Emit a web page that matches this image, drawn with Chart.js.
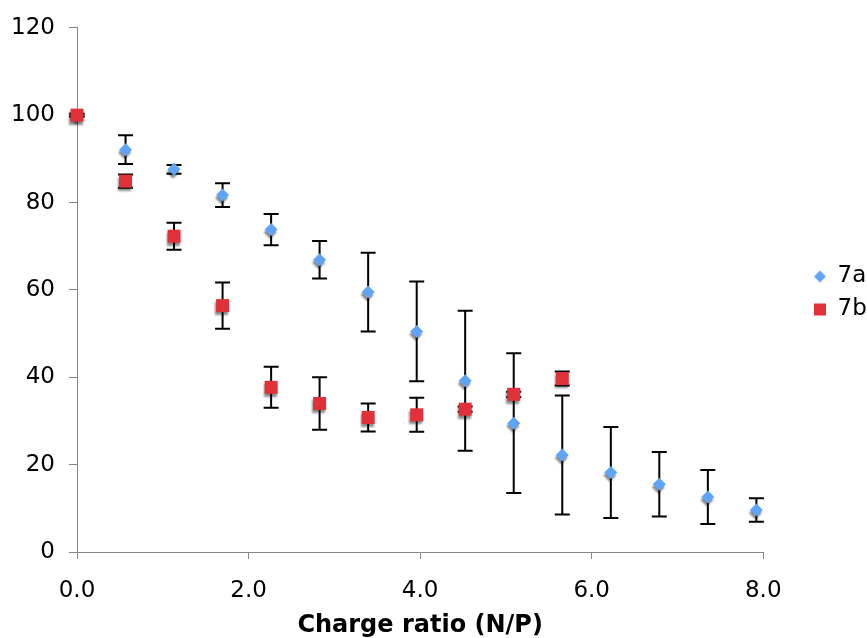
<!DOCTYPE html>
<html>
<head>
<meta charset="utf-8">
<script src="https://cdn.jsdelivr.net/npm/chart.js@4"></script>
<style>
  html, body { margin: 0; padding: 0; background: #fff; }
</style>
</head>
<body>
<canvas id="chart" width="867" height="638"></canvas>
<script>
// charge ratio (N/P) of each measurement
const chargeRatio = [0, 0.566, 1.131, 1.697, 2.263, 2.828, 3.394, 3.960, 4.525, 5.091, 5.657, 6.223, 6.788, 7.354, 7.920];

const values7a = [100, 92.1, 87.6, 81.7, 73.8, 66.9, 59.5, 50.5, 39.2, 29.5, 22.2, 18.2, 15.5, 12.6, 9.6];
const errors7a = [0.3, 3.3, 1.0, 2.7, 3.6, 4.3, 9.0, 11.4, 16.0, 16.0, 13.6, 10.4, 7.4, 6.2, 2.7];

const values7b = [100, 84.9, 72.3, 56.4, 37.7, 34.0, 30.8, 31.4, 32.7, 36.1, 39.7];
const errors7b = [0.3, 1.5, 3.1, 5.3, 4.7, 6.0, 3.2, 3.9, 0.6, 0.6, 1.6];

const seriesNames = ['7a', '7b'];

const FONT = 'DejaVu Sans, Verdana, sans-serif';
const BLUE = '#5ea5f7';
const RED = '#e0303a';
const AXIS = '#868686';

function points(ys) {
    return ys.map((y, i) => ({ x: chargeRatio[i], y: y }));
}

// small marker pictures for the legend
function legendIcon(shape, color) {
    const c = document.createElement('canvas');
    c.width = 14;
    c.height = 14;
    const g = c.getContext('2d');
    g.fillStyle = color;
    g.beginPath();
    if (shape === 'diamond') {
        g.moveTo(7, 1); g.lineTo(13, 7); g.lineTo(7, 13); g.lineTo(1, 7);
    } else {
        g.rect(1, 1, 12, 12);
    }
    g.fill();
    return c;
}
const legendIcons = [legendIcon('diamond', BLUE), legendIcon('square', RED)];

// vertical error bars with caps, drawn under the markers
const errorBars = {
    id: 'errorBars',
    beforeDatasetsDraw(chart) {
        const ctx = chart.ctx;
        const xs = chart.scales.x, ys = chart.scales.y;
        ctx.save();
        ctx.strokeStyle = '#000';
        ctx.lineWidth = 2;
        chart.data.datasets.forEach(ds => {
            ds.data.forEach((p, i) => {
                const e = ds.errors[i];
                const px = xs.getPixelForValue(p.x);
                const top = ys.getPixelForValue(p.y + e);
                const bot = ys.getPixelForValue(p.y - e);
                ctx.beginPath();
                ctx.moveTo(px, top); ctx.lineTo(px, bot);
                ctx.moveTo(px - 7.5, top); ctx.lineTo(px + 7.5, top);
                ctx.moveTo(px - 7.5, bot); ctx.lineTo(px + 7.5, bot);
                ctx.stroke();
            });
        });
        ctx.restore();
    }
};

// grey drop shadow under the markers
const markerShadow = {
    id: 'markerShadow',
    beforeDatasetDraw(chart) {
        const ctx = chart.ctx;
        ctx.save();
        ctx.shadowColor = 'rgba(0,0,0,0.45)';
        ctx.shadowOffsetX = -1;
        ctx.shadowOffsetY = 3;
        ctx.shadowBlur = 2;
    },
    afterDatasetDraw(chart) {
        chart.ctx.restore();
    }
};

// legend sits to the right of the plot, away from the axis end
const legendPlace = {
    id: 'legendPlace',
    afterLayout(chart) {
        const lg = chart.legend;
        const dx = 804 - lg.left;
        lg.left += dx;
        lg.right += dx;
        lg.top -= 38;
        lg.bottom -= 38;
    }
};

new Chart(document.getElementById('chart'), {
    type: 'scatter',
    data: {
        datasets: [{
            label: seriesNames[0],
            data: points(values7a),
            errors: errors7a,
            pointStyle: 'rectRot',
            pointRadius: 6.5,
            pointHoverRadius: 6.5,
            backgroundColor: BLUE,
            borderWidth: 0,
            clip: false,
            order: 1
        }, {
            label: seriesNames[1],
            data: points(values7b),
            errors: errors7b,
            pointStyle: 'rect',
            pointRadius: 9.2,
            pointHoverRadius: 9.2,
            backgroundColor: RED,
            borderWidth: 0,
            clip: false,
            order: 0
        }]
    },
    options: {
        responsive: false,
        animation: false,
        layout: { autoPadding: false, padding: { top: 24, right: 31, left: 0, bottom: 0 } },
        scales: {
            x: {
                type: 'linear',
                min: 0,
                max: 8,
                afterFit(scale) { scale.height = 86; },
                ticks: {
                    stepSize: 2,
                    padding: 18,
                    color: '#000',
                    font: { family: FONT, size: 23 },
                    callback: v => v.toFixed(1)
                },
                grid: { drawOnChartArea: false, drawTicks: true, tickLength: 7, color: AXIS },
                border: { color: AXIS, width: 1 },
                title: {
                    display: true,
                    text: 'Charge ratio (N/P)',
                    color: '#000',
                    font: { family: FONT, size: 24, weight: 'bold', lineHeight: 1 },
                    padding: { top: 0, bottom: 0 }
                }
            },
            y: {
                min: 0,
                max: 120,
                afterFit(scale) { scale.width = 77; },
                ticks: {
                    stepSize: 20,
                    padding: 14,
                    color: '#000',
                    font: { family: FONT, size: 23 }
                },
                grid: { drawOnChartArea: false, drawTicks: true, tickLength: 8, color: AXIS },
                border: { color: AXIS, width: 1 }
            }
        },
        plugins: {
            tooltip: { enabled: false },
            legend: {
                position: 'right',
                labels: {
                    usePointStyle: true,
                    boxWidth: 12,
                    boxHeight: 12,
                    padding: 10,
                    color: '#000',
                    font: { family: FONT, size: 23, lineHeight: 1 },
                    sort: (a, b) => a.datasetIndex - b.datasetIndex,
                    generateLabels(chart) {
                        const items = Chart.defaults.plugins.legend.labels.generateLabels(chart);
                        items.forEach(it => { it.pointStyle = legendIcons[it.datasetIndex]; });
                        return items;
                    }
                }
            }
        }
    },
    plugins: [errorBars, markerShadow, legendPlace]
});
</script>
</body>
</html>
